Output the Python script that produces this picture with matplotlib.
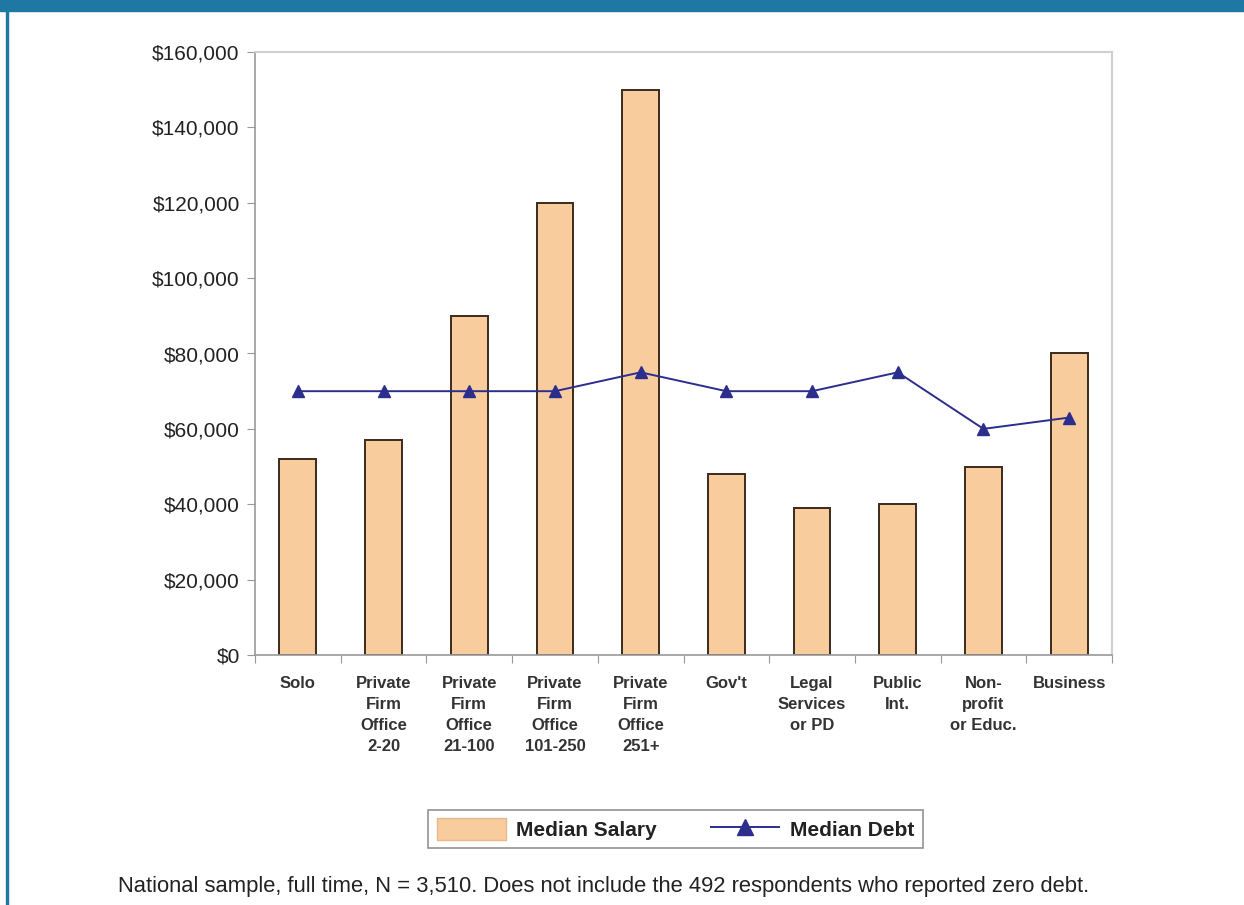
import matplotlib.pyplot as plt
import numpy as np
from matplotlib.lines import Line2D
from matplotlib.patches import Patch, Rectangle
from matplotlib.ticker import FuncFormatter

plt.rcParams['font.family'] = ['Liberation Sans', 'DejaVu Sans']

categories = ['Solo', 'Private\nFirm\nOffice\n2-20', 'Private\nFirm\nOffice\n21-100',
              'Private\nFirm\nOffice\n101-250', 'Private\nFirm\nOffice\n251+', "Gov't",
              'Legal\nServices\nor PD', 'Public\nInt.', 'Non-\nprofit\nor Educ.', 'Business']
median_salary = [52000, 57000, 90000, 120000, 150000, 48000, 39000, 40000, 50000, 80000]
median_debt = [70000, 70000, 70000, 70000, 75000, 70000, 70000, 75000, 60000, 63000]
yticks = [0, 20000, 40000, 60000, 80000, 100000, 120000, 140000, 160000]

bar_color = '#f9cc9d'
line_color = '#2b2e8c'

fig = plt.figure(figsize=(12.44, 9.05), dpi=100)
# page frame: blue band on top and thin line on the left
fig.patches.append(Rectangle((0, 1 - 11 / 905), 1, 11 / 905, transform=fig.transFigure,
                             color='#1f78a3', zorder=0))
fig.patches.append(Rectangle((6 / 1244, 0), 2 / 1244, 1, transform=fig.transFigure,
                             color='#1f78a3', zorder=0))

ax = fig.add_axes([255 / 1244, 1 - 655 / 905, 857 / 1244, 603 / 905])
x = np.arange(len(categories))
ax.bar(x, median_salary, width=0.43, color=bar_color, edgecolor='#3b2a1c', linewidth=1.4, zorder=2)
ax.plot(x, median_debt, color=line_color, linewidth=1.4, marker='^', markersize=9, zorder=3)

ax.set_xlim(-0.5, len(categories) - 0.5)
ax.set_ylim(0, 160000)
ax.set_yticks(yticks)
ax.yaxis.set_major_formatter(FuncFormatter(lambda v, p: '${:,.0f}'.format(v)))
ax.set_xticks(np.arange(len(categories) + 1) - 0.5)
ax.set_xticklabels([])
ax.set_xticks(x, minor=True)
ax.set_xticklabels(categories, minor=True, fontsize=12, fontweight='bold', color='#333333',
                   va='top', linespacing=1.5)
ax.tick_params(axis='x', which='minor', length=0, pad=15)
ax.tick_params(axis='x', which='major', length=6, color='#999999', direction='out')
ax.tick_params(axis='y', length=6, color='#999999', labelsize=15, labelcolor='#222222', pad=5)

for s in ['left', 'bottom']:
    ax.spines[s].set_color('#999999')
    ax.spines[s].set_linewidth(1.2)
for s in ['top', 'right']:
    ax.spines[s].set_color('#d0d0d0')
    ax.spines[s].set_linewidth(1.5)

handles = [Patch(facecolor=bar_color, edgecolor='#e8b88a'),
           Line2D([0], [0], color=line_color, linewidth=1.4, marker='^', markersize=11)]
leg = fig.legend(handles, ['Median Salary', 'Median Debt'], loc='center',
                 bbox_to_anchor=(675.5 / 1244, 1 - 829 / 905), ncol=2, frameon=True, fancybox=False,
                 prop={'weight': 'bold', 'size': 15}, handlelength=3.3, handleheight=1.2,
                 handletextpad=0.5, columnspacing=2.6, borderpad=0.4, edgecolor='#777777')
leg.get_frame().set_linewidth(1.2)
for t in leg.get_texts():
    t.set_color('#222222')

fig.text(118 / 1244, 1 - 886 / 905,
         'National sample, full time, N = 3,510. Does not include the 492 respondents who reported zero debt.',
         fontsize=15.8, color='#222222', va='center', ha='left')

fig.savefig('out.png', dpi=100)
